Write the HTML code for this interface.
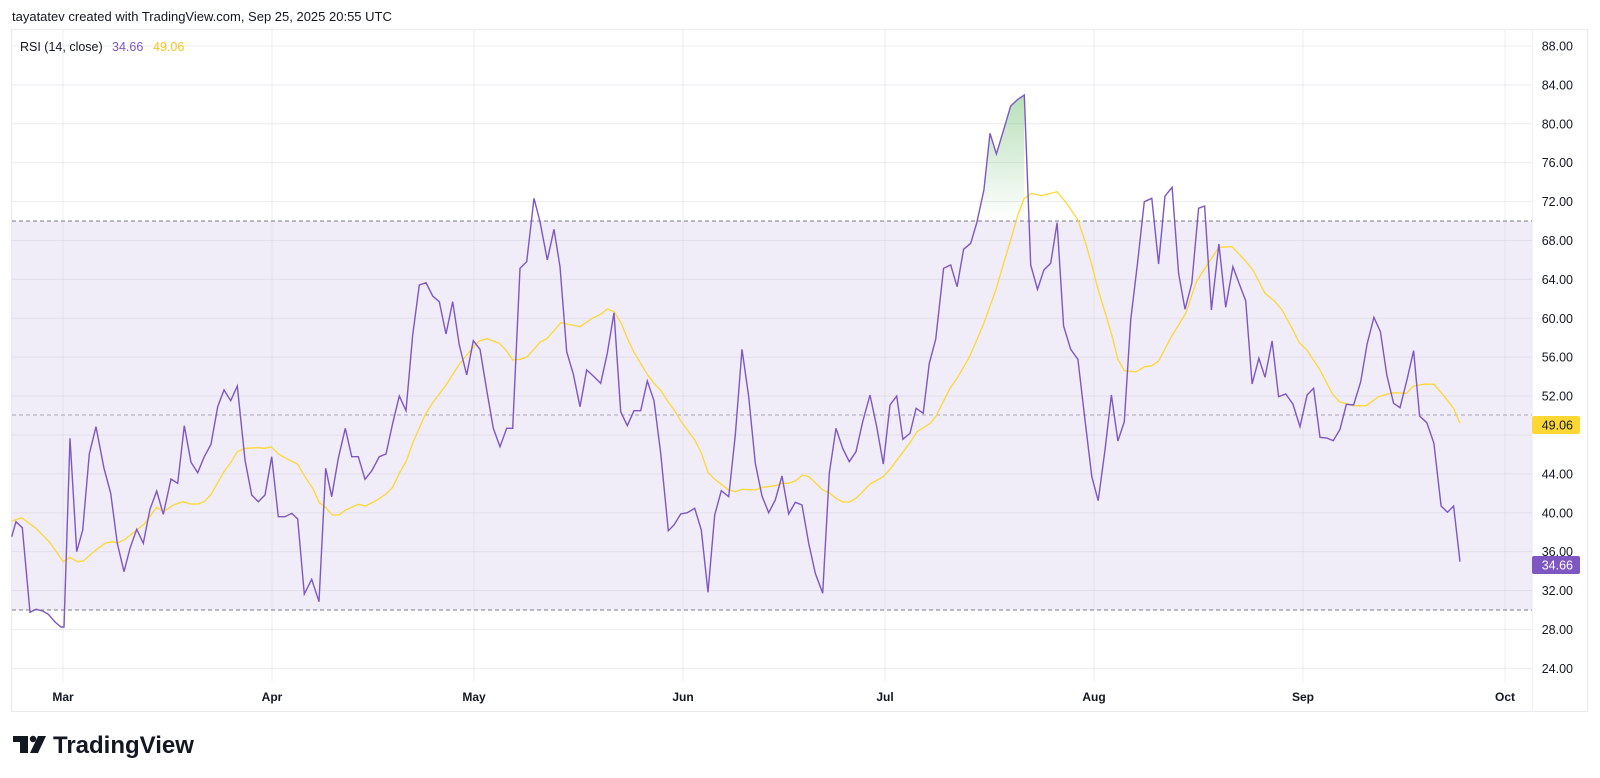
<!DOCTYPE html>
<html><head><meta charset="utf-8"><style>
html,body{margin:0;padding:0;background:#fff;width:1600px;height:778px;overflow:hidden;font-family:"Liberation Sans","DejaVu Sans",sans-serif}
svg{position:absolute;left:0;top:0}
</style></head><body>
<svg id="s" width="1600" height="778" xmlns="http://www.w3.org/2000/svg">
<defs>
<linearGradient id="g" x1="0" y1="95" x2="0" y2="221" gradientUnits="userSpaceOnUse">
<stop offset="0" stop-color="#4caf50" stop-opacity="0.4"/>
<stop offset="1" stop-color="#4caf50" stop-opacity="0"/>
</linearGradient>
<clipPath id="cp"><rect x="0" y="0" width="1600" height="221"/></clipPath>
</defs>
<text x="12" y="21" font-size="13" fill="#131722">tayatatev created with TradingView.com, Sep 25, 2025 20:55 UTC</text>
<rect x="11.5" y="29.5" width="1576" height="682" fill="none" stroke="#e9e9ee"/>
<line x1="1532.5" y1="29" x2="1532.5" y2="712" stroke="#f2f2f5"/>
<rect x="12" y="221" width="1520" height="389" fill="#f0ecf8"/>
<g id="grid"></g>
<line x1="12" y1="221" x2="1532" y2="221" stroke="#787b86" stroke-dasharray="4,3"/>
<line x1="12" y1="415" x2="1532" y2="415" stroke="#aaa6b8" stroke-dasharray="4,3"/>
<line x1="12" y1="610" x2="1532" y2="610" stroke="#787b86" stroke-dasharray="4,3"/>
<g id="fill" clip-path="url(#cp)"></g>
<polyline id="ma" fill="none" stroke="#fdd835" stroke-width="1.3"/>
<polyline id="rsi" fill="none" stroke="#7e57c2" stroke-width="1.4"/>
<text x="20" y="51" font-size="12.5" fill="#131722">RSI (14, close)</text>
<text x="112" y="51" font-size="12.5" fill="#7e57c2">34.66</text>
<text x="153" y="51" font-size="12.5" fill="#f7c51e">49.06</text>
<g id="ylab" font-size="12.5" fill="#131722" text-anchor="end"></g>
<g font-size="12" fill="#131722" text-anchor="middle" font-weight="bold">
<text x="63" y="701">Mar</text><text x="272" y="701">Apr</text><text x="474" y="701">May</text>
<text x="683" y="701">Jun</text><text x="885" y="701">Jul</text><text x="1094" y="701">Aug</text>
<text x="1303" y="701">Sep</text><text x="1505" y="701">Oct</text>
</g>
<rect x="1532" y="416" width="48" height="18" rx="2" fill="#fdd835"/>
<text x="1573" y="429.5" font-size="12.5" fill="#131722" text-anchor="end">49.06</text>
<rect x="1532" y="556" width="48" height="18" rx="2" fill="#7e57c2"/>
<text x="1573" y="569.5" font-size="12.5" fill="#fff" text-anchor="end">34.66</text>
<g fill="#131722">
<rect x="13" y="736" width="15" height="6"/><rect x="20" y="736" width="8" height="17"/>
<circle cx="33" cy="739" r="3.2"/>
<polygon points="38,736 46,736 38,753 30,753"/>
</g>
<text x="53" y="753" font-size="24" font-weight="bold" fill="#131722">TradingView</text>
</svg>
<script>
var ns="http://www.w3.org/2000/svg";
function Y(v){return 610-(v-30)*9.725;}
var grid=document.getElementById('grid'),yl=document.getElementById('ylab');
for(var v=24;v<=88;v+=4){var y=Y(v);
 var l=document.createElementNS(ns,'line');l.setAttribute('x1',12);l.setAttribute('x2',1532);l.setAttribute('y1',y);l.setAttribute('y2',y);l.setAttribute('stroke','rgba(200,200,215,0.35)');grid.appendChild(l);
 if(v!=48){var t=document.createElementNS(ns,'text');t.setAttribute('x',1573);t.setAttribute('y',y+4.5);t.textContent=v.toFixed(2);yl.appendChild(t);}
}
[63,272,474,683,885,1094,1303,1505].forEach(function(x){var l=document.createElementNS(ns,'line');l.setAttribute('x1',x);l.setAttribute('x2',x);l.setAttribute('y1',30);l.setAttribute('y2',681);l.setAttribute('stroke','rgba(200,200,215,0.3)');grid.appendChild(l);});
function T(a,sx,ox,sy,oy){var r=[];for(var i=0;i<a.length;i+=2)r.push([ox+a[i]/sx,oy+a[i+1]/sy]);return r;}
var p1=T([35,1070,48,1025,67,1043,90,1297,108,1288,128,1293,145,1303,158,1318],3,0,3,180)
.concat([[55,622],[61,627],[64,627]])
.concat(T([210,775,230,1115,248,1050,268,822,288,740,312,865,332,940,352,1090,372,1175,390,1105,410,1048,430,1090,450,988,470,933,490,1003,513,897,533,910,553,737,573,847,593,878,613,830,633,793,653,680,672,630,692,662,712,618,735,840,755,945,775,965,795,945,815,830,835,1010,855,1010,875,1000,893,1017,913,1242,935,1198,957,1265,977,865,995,950,1015,835,1036,745,1055,830,1075,830,1095,898,1115,873,1138,830,1158,822,1178,730,1198,648,1218,692,1238,465,1258,315,1278,308,1298,348,1318,365,1338,462,1358,365,1378,495],3,0,3,180))
.concat(T([20,585,40,482,60,508,80,630,100,745,120,800,140,745,158,745,180,265,200,245,222,55,240,125,262,240,282,148,300,260,320,515,340,582,360,680,380,570,400,588,422,610,442,520,462,398,482,695,502,737,522,692,542,692,562,603,582,662,602,820,625,1052,642,1035,662,1002,682,998,704,985,724,1050,744,1237,764,1005,784,932,806,950,826,765,846,508,866,650,886,850,906,948,926,998,946,960,966,888,986,1002,1006,967,1026,975,1046,1090,1066,1180,1088,1240,1108,880,1128,745,1148,805,1168,845,1188,815,1208,725,1230,645,1250,740,1270,852,1290,675,1310,648],3,460,3,180))
.concat(T([8,1078,28,1060,45,985,65,1000,82,850,100,778,122,565,142,555,160,620,178,508,198,490,215,428,235,330,252,160,270,222,290,150,310,78,330,58,348,45,366,555,385,628,403,570,422,550,440,428,458,738,478,808,498,838,518,1020,537,1190,555,1262,574,1110,592,945,610,1083,628,1025,646,720,665,550,684,365,705,355,724,552,742,348,762,322,780,580,798,688,817,610,836,385,853,378,872,690,893,492,912,682,932,560,950,612,968,662,986,912,1005,835,1022,892,1042,783,1060,950,1080,942,1100,972,1120,1040,1140,945,1158,925,1176,1072,1195,1074,1213,1082,1232,1048,1250,973,1270,975,1290,905,1308,792,1327,712,1345,755,1363,885,1382,970,1400,983,1420,898,1438,812,1455,1008,1475,1028,1495,1090,1515,1278,1533,1297,1550,1278,1568,1445],2.8,900,3,80));
var m=[[12,521]].concat(T([65,1013,108,1045,150,1088,190,1145,210,1132,232,1145,250,1143,290,1108,315,1090,335,1085,355,1088,375,1078,410,1050,432,1033,470,982,490,995,520,975,550,965,570,972,595,972,612,965,632,945,672,875,692,848,712,815,735,805,775,803,795,805,813,800,835,822,858,835,893,853,915,890,940,928,958,968,975,980,997,1005,1017,1005,1037,990,1075,973,1097,978,1135,958,1158,942,1178,922,1198,880,1218,845,1240,785,1275,705,1298,668,1338,615,1378,553],3,0,3,180))
.concat(T([20,525,40,502,58,483,80,476,118,490,138,510,158,540,182,538,202,530,240,487,262,475,302,428,360,440,400,413,422,403,442,387,462,395,484,430,502,475,522,517,562,583,582,610,604,633,624,665,644,692,664,725,704,780,724,818,744,877,764,898,784,913,806,930,826,935,846,928,886,930,906,922,946,917,966,910,986,910,1006,903,1028,885,1046,890,1066,908,1088,930,1108,938,1128,955,1148,966,1168,966,1188,955,1208,935,1230,912,1270,890,1290,868],3,460,3,180))
.concat(T([28,1088,48,1055,85,1030,100,1010,140,925,160,895,195,830,235,730,270,625,290,550,310,480,330,405,348,355,368,340,395,347,440,335,470,375,498,420,520,490,537,555,555,630,575,700,593,765,610,838,628,872,660,876,685,860,705,857,724,843,760,770,800,700,830,605,858,558,893,502,930,500,965,540,988,570,1022,640,1048,663,1070,690,1098,745,1118,788,1138,808,1175,868,1210,940,1230,965,1270,977,1305,977,1340,950,1380,938,1418,940,1438,918,1470,912,1495,913,1525,950,1550,985,1568,1030],2.8,900,3,80));
function s(a){return a.map(function(p){return p[0].toFixed(1)+','+p[1].toFixed(1)}).join(' ');}
document.getElementById('rsi').setAttribute('points',s(p1));
document.getElementById('ma').setAttribute('points',s(m));
var seg=p1.filter(function(p){return p[0]>=960&&p[0]<=1025;});
var poly=document.createElementNS(ns,'polygon');
poly.setAttribute('points',s([[seg[0][0],221]].concat(seg).concat([[seg[seg.length-1][0],221]])));
poly.setAttribute('fill','url(#g)');document.getElementById('fill').appendChild(poly);
</script>
</body></html>
